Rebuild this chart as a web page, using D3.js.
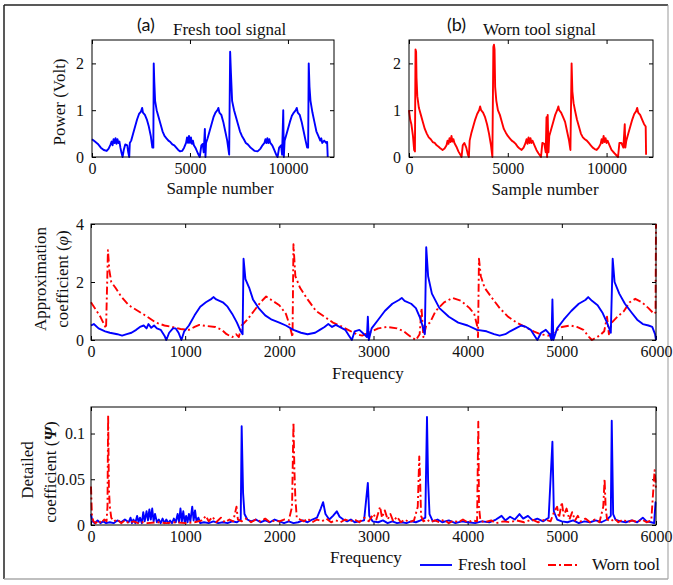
<!DOCTYPE html>
<html>
<head>
<meta charset="utf-8">
<script src="https://cdn.jsdelivr.net/npm/d3@7"></script>
<style>
  body { margin: 0; background: #fff; }
</style>
</head>
<body>
<svg id="chart" width="673" height="585"></svg>
<script>
// ---- data ----
// (a) fresh tool signal  [sample, volt]
const freshSignal = [[0,0.38],[150,0.33],[300,0.28],[450,0.2],[600,0.15],[750,0.13],[850,0.18],[950,0.27],[1000,0.33],[1050,0.25],[1100,0.38],[1150,0.3],[1200,0.4],[1250,0.28],[1300,0.38],[1350,0.3],[1400,0.33],[1450,0.2],[1500,0.1],[1560,0],[1620,0.15],[1700,0.27],[1800,0.25],[1850,0.1],[1900,0],[1930,0.3],[2000,0.35],[2100,0.5],[2200,0.65],[2300,0.8],[2400,0.92],[2500,0.97],[2560,1.05],[2600,0.95],[2700,0.9],[2800,0.8],[2900,0.65],[3000,0.45],[3080,0.2],[3130,0.2],[3150,2.0],[3180,1.6],[3220,1.2],[3300,1.0],[3400,0.85],[3500,0.7],[3600,0.55],[3700,0.45],[3800,0.4],[3900,0.35],[4000,0.32],[4100,0.27],[4200,0.25],[4300,0.2],[4400,0.15],[4500,0.12],[4600,0.13],[4700,0.2],[4800,0.3],[4850,0.42],[4900,0.3],[4950,0.45],[5000,0.3],[5050,0.42],[5100,0.28],[5150,0.35],[5200,0.25],[5300,0.18],[5400,0.08],[5500,0],[5580,0.25],[5650,0.28],[5700,0.1],[5760,0.6],[5790,0],[5820,0.3],[5900,0.4],[6000,0.55],[6100,0.7],[6200,0.85],[6300,0.95],[6400,1.0],[6450,1.05],[6500,0.95],[6600,0.9],[6700,0.75],[6800,0.55],[6900,0.35],[7000,0.05],[7050,2.25],[7090,1.8],[7150,1.2],[7250,1.0],[7350,0.85],[7450,0.7],[7550,0.55],[7650,0.45],[7750,0.38],[7850,0.3],[7950,0.27],[8050,0.22],[8150,0.18],[8300,0.13],[8450,0.12],[8600,0.18],[8700,0.25],[8800,0.3],[8850,0.38],[8900,0.3],[8950,0.4],[9000,0.3],[9050,0.38],[9100,0.3],[9200,0.25],[9300,0.15],[9400,0.05],[9470,0],[9550,0.2],[9650,0.25],[9700,0.05],[9760,1.0],[9790,0],[9830,0.35],[9900,0.45],[10000,0.6],[10100,0.75],[10200,0.88],[10300,0.95],[10400,1.0],[10450,1.05],[10500,0.95],[10600,0.9],[10700,0.75],[10800,0.55],[10900,0.35],[10980,0.2],[11030,0.2],[11060,2.0],[11100,1.5],[11150,1.2],[11250,0.95],[11350,0.75],[11450,0.55],[11550,0.45],[11650,0.35],[11700,0.4],[11750,0.3],[11850,0.35],[11950,0.3],[12000,0.32],[12030,0]];

// (b) worn tool signal  [sample, volt]
const wornSignal = [[0,1.0],[60,0.8],[120,0.7],[200,0.45],[260,0.15],[300,0.12],[330,2.3],[360,2.25],[380,1.7],[420,1.3],[500,1.05],[600,0.9],[700,0.75],[800,0.6],[900,0.5],[1000,0.42],[1100,0.38],[1200,0.32],[1300,0.3],[1400,0.25],[1500,0.22],[1600,0.18],[1700,0.15],[1800,0.18],[1900,0.25],[1950,0.35],[2000,0.28],[2050,0.4],[2100,0.32],[2150,0.45],[2200,0.33],[2250,0.38],[2300,0.3],[2400,0.22],[2500,0.12],[2600,0.05],[2660,0],[2720,0.25],[2800,0.3],[2900,0.2],[2980,0.05],[3030,0],[3070,0.35],[3150,0.5],[3250,0.65],[3350,0.8],[3450,0.92],[3550,1.0],[3600,1.08],[3650,1.0],[3750,0.95],[3850,0.85],[3950,0.7],[4050,0.5],[4150,0.25],[4220,0],[4270,2.35],[4300,2.4],[4330,2.3],[4360,1.5],[4420,1.2],[4500,1.0],[4600,0.9],[4700,0.75],[4800,0.6],[4900,0.52],[5000,0.45],[5100,0.4],[5200,0.35],[5300,0.32],[5400,0.28],[5500,0.22],[5600,0.18],[5700,0.15],[5800,0.2],[5900,0.3],[5950,0.38],[6000,0.28],[6050,0.42],[6100,0.3],[6150,0.4],[6200,0.3],[6250,0.35],[6350,0.25],[6450,0.15],[6550,0.08],[6680,0],[6750,0.3],[6850,0.28],[6920,0.1],[6960,0.85],[6990,0],[7020,0.9],[7060,0.1],[7100,0.45],[7200,0.6],[7300,0.75],[7400,0.9],[7500,1.0],[7560,1.08],[7600,1.0],[7700,0.95],[7800,0.85],[7900,0.75],[8000,0.55],[8100,0.35],[8170,0.15],[8230,2.0],[8270,1.4],[8330,1.15],[8400,1.0],[8500,0.8],[8600,0.65],[8700,0.5],[8800,0.42],[8900,0.38],[9000,0.35],[9100,0.3],[9200,0.25],[9300,0.2],[9400,0.17],[9500,0.15],[9600,0.2],[9700,0.28],[9750,0.38],[9800,0.3],[9850,0.45],[9900,0.32],[9950,0.4],[10000,0.3],[10050,0.35],[10150,0.25],[10250,0.15],[10400,0.08],[10580,0],[10650,0.3],[10750,0.3],[10850,0.2],[10920,0.7],[10950,0.2],[11000,0.35],[11100,0.5],[11200,0.65],[11300,0.8],[11400,0.92],[11500,0.98],[11550,1.05],[11600,0.95],[11700,0.9],[11800,0.8],[11900,0.7],[11980,0.65],[12000,0.05]];

// approximation coefficient (phi)  [frequency, value]
const freshApprox = [[0,0.5],[30,0.55],[80,0.4],[150,0.3],[200,0.25],[280,0.2],[330,0.15],[380,0.2],[430,0.25],[480,0.35],[520,0.45],[560,0.5],[590,0.4],[610,0.55],[640,0.42],[670,0.5],[700,0.4],[740,0.35],[780,0.15],[800,0],[830,0.25],[870,0.4],[900,0.4],[930,0.25],[960,0],[990,0.3],[1040,0.5],[1100,0.85],[1160,1.15],[1220,1.3],[1280,1.42],[1300,1.48],[1330,1.4],[1400,1.3],[1450,1.15],[1500,0.9],[1550,0.6],[1590,0.3],[1610,0.2],[1620,2.8],[1640,2.1],[1680,1.8],[1720,1.4],[1780,1.1],[1850,0.85],[1920,0.7],[2000,0.6],[2070,0.5],[2150,0.35],[2230,0.25],[2300,0.2],[2380,0.25],[2430,0.35],[2480,0.45],[2520,0.55],[2560,0.45],[2600,0.52],[2640,0.45],[2700,0.35],[2740,0.15],[2770,0],[2800,0.3],[2850,0.35],[2900,0.2],[2930,0.1],[2940,0.8],[2950,0],[2980,0.4],[3050,0.7],[3120,1.0],[3200,1.25],[3270,1.38],[3300,1.45],[3330,1.35],[3400,1.25],[3450,1.1],[3490,0.8],[3520,0.5],[3545,0.2],[3560,3.2],[3580,2.2],[3620,1.6],[3700,1.1],[3800,0.8],[3900,0.6],[4000,0.5],[4100,0.35],[4200,0.3],[4280,0.2],[4340,0.15],[4400,0.2],[4450,0.3],[4520,0.42],[4570,0.5],[4620,0.45],[4670,0.35],[4700,0.2],[4740,0],[4780,0.25],[4830,0.35],[4870,0.2],[4890,0],[4900,1.4],[4910,0],[4950,0.4],[5020,0.7],[5100,1.0],[5180,1.25],[5250,1.38],[5280,1.48],[5320,1.35],[5380,1.2],[5430,0.95],[5480,0.6],[5520,0.25],[5540,2.8],[5560,2.0],[5610,1.6],[5670,1.25],[5740,0.95],[5800,0.7],[5860,0.55],[5920,0.5],[5960,0.45],[5990,0.2],[6000,0]];
const wornApprox = [[0,1.3],[20,1.2],[60,1.0],[100,0.8],[130,0.6],[160,0.4],[180,3.1],[195,2.4],[215,2.0],[260,1.8],[320,1.5],[400,1.2],[500,1.0],[600,0.8],[690,0.6],[780,0.5],[860,0.45],[950,0.38],[1040,0.35],[1100,0.45],[1150,0.52],[1230,0.48],[1320,0.45],[1390,0.35],[1440,0.2],[1500,0.1],[1540,0.2],[1570,0.1],[1600,0.5],[1660,0.7],[1730,1.0],[1800,1.3],[1860,1.5],[1930,1.35],[2000,1.2],[2070,0.9],[2110,0.5],[2140,0.1],[2150,3.3],[2170,2.2],[2220,1.8],[2300,1.4],[2390,1.0],[2480,0.8],[2570,0.6],[2640,0.5],[2730,0.35],[2820,0.2],[2880,0.15],[2950,0.25],[3050,0.4],[3140,0.45],[3250,0.4],[3320,0.3],[3360,0.2],[3400,0.1],[3450,0],[3490,0.2],[3510,1.1],[3530,0.1],[3560,0.5],[3600,0.6],[3660,1.0],[3750,1.3],[3840,1.45],[3930,1.35],[4020,1.1],[4070,0.9],[4100,0.5],[4110,0.1],[4120,2.8],[4140,2.2],[4180,1.8],[4270,1.4],[4340,1.1],[4430,0.8],[4520,0.6],[4610,0.45],[4700,0.3],[4770,0.2],[4860,0.15],[4930,0.3],[5000,0.45],[5090,0.5],[5160,0.45],[5230,0.35],[5290,0.1],[5320,0],[5400,0.15],[5450,0.3],[5480,0.8],[5500,0.2],[5530,0.6],[5590,0.8],[5660,1.0],[5720,1.3],[5780,1.42],[5850,1.3],[5920,1.1],[5980,0.9],[5995,0.95],[6000,4.0]];

// detailed coefficient (psi)  [frequency, value]
const freshDetail = [[0,0.012],[15,0.004],[40,0.002],[70,0.005],[100,0.002],[130,0.004],[160,0.002],[200,0.003],[240,0.002],[280,0.005],[320,0.003],[360,0.006],[400,0.003],[420,0.008],[435,0.002],[450,0.006],[470,0.002],[490,0.01],[505,0.003],[520,0.008],[540,0.002],[555,0.014],[570,0.004],[590,0.015],[605,0.005],[620,0.017],[635,0.006],[650,0.018],[665,0.004],[680,0.012],[700,0.003],[720,0.006],[740,0.002],[760,0.007],[780,0.002],[800,0.006],[820,0.002],[840,0.005],[860,0.002],[880,0.007],[900,0.003],[920,0.012],[935,0.003],[950,0.018],[965,0.004],[980,0.015],[995,0.003],[1010,0.01],[1025,0.003],[1040,0.012],[1055,0.004],[1075,0.02],[1090,0.005],[1105,0.016],[1120,0.004],[1140,0.008],[1160,0.002],[1200,0.003],[1250,0.002],[1300,0.004],[1350,0.002],[1400,0.003],[1450,0.002],[1500,0.004],[1550,0.003],[1590,0.006],[1600,0.108],[1615,0.035],[1630,0.012],[1660,0.006],[1700,0.004],[1750,0.006],[1800,0.003],[1850,0.005],[1900,0.003],[1950,0.006],[2000,0.004],[2050,0.002],[2100,0.004],[2150,0.002],[2200,0.003],[2250,0.005],[2300,0.003],[2350,0.006],[2400,0.008],[2440,0.018],[2465,0.025],[2490,0.012],[2530,0.006],[2570,0.01],[2610,0.015],[2640,0.009],[2680,0.006],[2720,0.004],[2760,0.006],[2800,0.003],[2850,0.004],[2900,0.005],[2940,0.046],[2955,0.01],[2990,0.004],[3050,0.003],[3100,0.005],[3150,0.002],[3200,0.004],[3250,0.002],[3300,0.003],[3350,0.002],[3400,0.004],[3450,0.003],[3500,0.005],[3550,0.008],[3568,0.118],[3580,0.048],[3595,0.012],[3630,0.004],[3680,0.006],[3730,0.003],[3800,0.005],[3870,0.002],[3940,0.004],[4000,0.003],[4080,0.002],[4150,0.004],[4230,0.003],[4300,0.006],[4360,0.01],[4400,0.005],[4450,0.009],[4500,0.006],[4550,0.012],[4590,0.007],[4640,0.01],[4690,0.005],[4740,0.007],[4800,0.004],[4860,0.008],[4900,0.091],[4915,0.015],[4950,0.006],[5000,0.004],[5060,0.003],[5120,0.005],[5180,0.002],[5240,0.004],[5300,0.003],[5360,0.005],[5420,0.003],[5480,0.006],[5520,0.01],[5530,0.114],[5545,0.012],[5570,0.006],[5620,0.004],[5680,0.003],[5740,0.005],[5800,0.003],[5860,0.008],[5900,0.004],[5950,0.003],[5980,0.002],[5995,0.025],[6000,0.025]];
const wornDetail = [[0,0.042],[10,0.01],[25,0.004],[50,0.002],[80,0.005],[110,0.002],[140,0.006],[165,0.004],[175,0.02],[182,0.12],[190,0.04],[200,0.02],[215,0.008],[240,0.004],[280,0.006],[320,0.002],[360,0.005],[400,0.002],[450,0.004],[500,0.002],[550,0.003],[600,0.002],[700,0.003],[800,0.002],[900,0.003],[1000,0.002],[1100,0.003],[1180,0.005],[1220,0.01],[1250,0.004],[1290,0.009],[1330,0.003],[1380,0.008],[1420,0.003],[1470,0.006],[1510,0.004],[1545,0.02],[1560,0.006],[1600,0.004],[1650,0.007],[1700,0.003],[1750,0.006],[1800,0.004],[1850,0.007],[1900,0.003],[1950,0.005],[2000,0.004],[2050,0.006],[2100,0.005],[2135,0.02],[2150,0.112],[2160,0.06],[2170,0.03],[2185,0.008],[2220,0.006],[2260,0.004],[2300,0.007],[2350,0.003],[2400,0.006],[2450,0.004],[2500,0.007],[2550,0.003],[2600,0.005],[2650,0.003],[2700,0.006],[2750,0.004],[2800,0.006],[2850,0.003],[2900,0.008],[2950,0.004],[3000,0.012],[3030,0.006],[3070,0.02],[3090,0.008],[3120,0.016],[3150,0.006],[3180,0.012],[3210,0.004],[3250,0.009],[3290,0.003],[3330,0.006],[3380,0.003],[3430,0.005],[3470,0.02],[3486,0.075],[3495,0.05],[3505,0.01],[3530,0.004],[3570,0.006],[3600,0.003],[3650,0.005],[3700,0.003],[3750,0.006],[3800,0.002],[3850,0.005],[3900,0.003],[3950,0.006],[4000,0.003],[4050,0.005],[4100,0.004],[4113,0.113],[4120,0.02],[4135,0.005],[4180,0.003],[4250,0.005],[4300,0.002],[4380,0.004],[4450,0.003],[4520,0.005],[4600,0.003],[4680,0.006],[4750,0.003],[4820,0.006],[4880,0.004],[4920,0.015],[4950,0.02],[4970,0.008],[5000,0.025],[5020,0.01],[5050,0.018],[5080,0.006],[5110,0.014],[5140,0.005],[5170,0.01],[5200,0.004],[5250,0.007],[5300,0.003],[5350,0.006],[5400,0.003],[5440,0.02],[5454,0.05],[5465,0.02],[5480,0.006],[5520,0.004],[5560,0.007],[5600,0.003],[5650,0.006],[5700,0.003],[5750,0.005],[5800,0.003],[5850,0.006],[5900,0.003],[5950,0.005],[5985,0.06],[6000,0.04]];

// tick values
const sampleTicks = [0, 5000, 10000];
const voltTicks = [0, 1, 2];
const freqTicks = [0, 1000, 2000, 3000, 4000, 5000, 6000];
const approxTicks = [0, 2, 4];
const detailTicks = [0, 0.05, 0.1];

const BLUE = "#0000ff", RED = "#ff0000";
const DASH = "8,3,2,3";
const SERIF = "'Liberation Serif', 'Times New Roman', serif";

const svg = d3.select("#chart");

// outer frame of the figure
svg.append("line").attr("x1", 4).attr("x2", 668).attr("y1", 5).attr("y2", 5).attr("stroke", "#222").attr("stroke-width", 1.5);
svg.append("line").attr("x1", 4).attr("x2", 4).attr("y1", 5).attr("y2", 579).attr("stroke", "#222").attr("stroke-width", 1.5);
svg.append("line").attr("x1", 668).attr("x2", 668).attr("y1", 5).attr("y2", 579).attr("stroke", "#999").attr("stroke-width", 1);
svg.append("line").attr("x1", 4).attr("x2", 668).attr("y1", 579).attr("y2", 579).attr("stroke", "#aaa").attr("stroke-width", 1.5);

// one MATLAB-style axes box with inward ticks on all four sides
function panel(o) {
  const x = d3.scaleLinear().domain(o.xDomain).range([o.left, o.right]);
  const y = d3.scaleLinear().domain(o.yDomain).range([o.bottom, o.top]);
  const g = svg.append("g");

  g.append("g").attr("transform", `translate(0,${o.bottom})`)
    .call(d3.axisBottom(x).tickValues(o.xTicks).tickSizeInner(-4).tickSizeOuter(0).tickPadding(6).tickFormat(d3.format("d")));
  g.append("g").attr("transform", `translate(0,${o.top})`)
    .call(d3.axisTop(x).tickValues(o.xTicks).tickSizeInner(-4).tickSizeOuter(0).tickFormat(""));
  g.append("g").attr("transform", `translate(${o.left},0)`)
    .call(d3.axisLeft(y).tickValues(o.yTicks).tickSizeInner(-4).tickSizeOuter(0).tickPadding(o.yPad).tickFormat(o.yFormat));
  g.append("g").attr("transform", `translate(${o.right},0)`)
    .call(d3.axisRight(y).tickValues(o.yTicks).tickSizeInner(-4).tickSizeOuter(0).tickFormat(""));

  g.selectAll(".domain").remove();
  g.selectAll(".tick line").attr("stroke", "#000");
  g.selectAll(".tick text").style("font-family", SERIF).style("font-size", "16px").attr("fill", "#111");

  const line = d3.line().x(d => x(d[0])).y(d => y(d[1]));
  o.series.forEach(s => {
    g.append("path").datum(s.data)
      .attr("d", line)
      .attr("fill", "none")
      .attr("stroke", s.color)
      .attr("stroke-width", s.width || 1.9)
      .attr("stroke-linejoin", "round")
      .attr("stroke-dasharray", s.dash || null);
  });

  g.append("rect").attr("x", o.left).attr("y", o.top)
    .attr("width", o.right - o.left).attr("height", o.bottom - o.top)
    .attr("fill", "none").attr("stroke", "#000").attr("stroke-width", 1);
  return g;
}

// (a)
panel({ left: 92, right: 334, top: 40, bottom: 157, xDomain: [0, 12350], yDomain: [0, 2.5],
  xTicks: sampleTicks, yTicks: voltTicks, yPad: 8, yFormat: d3.format("d"),
  series: [{ data: freshSignal, color: BLUE }] });
// (b)
panel({ left: 409, right: 653, top: 40, bottom: 157, xDomain: [0, 12350], yDomain: [0, 2.5],
  xTicks: sampleTicks, yTicks: voltTicks, yPad: 8, yFormat: d3.format("d"),
  series: [{ data: wornSignal, color: RED }] });
// approximation
panel({ left: 91, right: 656, top: 224, bottom: 340, xDomain: [0, 6000], yDomain: [0, 4],
  xTicks: freqTicks, yTicks: approxTicks, yPad: 7, yFormat: d3.format("d"),
  series: [{ data: wornApprox, color: RED, dash: DASH }, { data: freshApprox, color: BLUE }] });
// detailed
panel({ left: 91, right: 656, top: 407, bottom: 525, xDomain: [0, 6000], yDomain: [0, 0.129],
  xTicks: freqTicks, yTicks: detailTicks, yPad: 6, yFormat: d => String(d),
  series: [{ data: freshDetail, color: BLUE }, { data: wornDetail, color: RED, dash: DASH }] });

// titles and labels
function txt(x, y, s, size, anchor, rot) {
  const t = svg.append("text").style("font-family", SERIF).style("font-size", size + "px")
    .attr("fill", "#111").attr("text-anchor", anchor || "start");
  if (rot) t.attr("transform", `translate(${x},${y}) rotate(-90)`);
  else t.attr("x", x).attr("y", y);
  t.text(s);
  return t;
}
txt(137, 31, "(a)", 18).style("font-family", "Lato, 'Open Sans', sans-serif");
txt(173, 35, "Fresh tool signal", 17);
txt(447, 31, "(b)", 18).style("font-family", "Lato, 'Open Sans', sans-serif");
txt(483, 35, "Worn tool signal", 17);

txt(220, 194, "Sample number", 17, "middle");
txt(545, 195, "Sample number", 17, "middle");
txt(65, 102, "Power (Volt)", 17, "middle", true);

txt(46, 279, "Approximation", 17, "middle", true);
const phi = txt(68, 279, "coefficient (", 17, "middle", true);
phi.append("tspan").style("font-style", "italic").text("φ");
phi.append("tspan").text(")");
txt(368, 379, "Frequency", 17, "middle");

txt(33, 470, "Detailed", 17, "middle", true);
const psi = txt(56, 472, "coefficient (", 17, "middle", true);
psi.append("tspan").style("font-style", "italic").style("font-weight", "bold").text("Ψ");
psi.append("tspan").text(")");
txt(366, 563, "Frequency", 17, "middle");

// legend
svg.append("line").attr("x1", 420).attr("x2", 452).attr("y1", 565).attr("y2", 565).attr("stroke", BLUE).attr("stroke-width", 1.9);
txt(458, 570, "Fresh tool", 17);
svg.append("line").attr("x1", 548).attr("x2", 578).attr("y1", 565).attr("y2", 565).attr("stroke", RED).attr("stroke-width", 1.9).attr("stroke-dasharray", DASH);
txt(592, 570, "Worn tool", 17);
</script>
</body>
</html>
